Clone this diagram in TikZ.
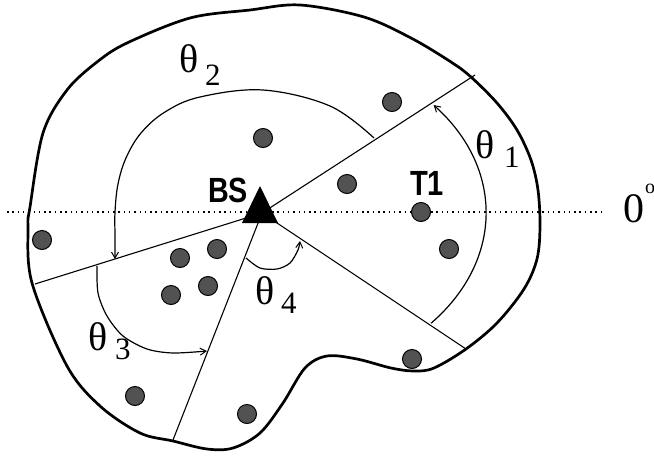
\documentclass[tikz,border=0pt]{standalone}
\usepackage{fontspec}
\setmainfont{Liberation Serif}
\newfontfamily\labelsans{Liberation Sans}
\usetikzlibrary{arrows.meta}
\definecolor{termgray}{RGB}{82,82,82}
\begin{document}
\begin{tikzpicture}[x=1pt,y=-1pt,
  outline/.style={line width=2.7pt, line join=round},
  ray/.style={line width=1.1pt},
  anglearc/.style={line width=1.2pt, -{Straight Barb[length=6pt,width=7pt,line width=1pt]}},
  term/.style={circle, draw=black, line width=1pt, fill=termgray, minimum size=19pt, inner sep=0pt},
  greek/.style={inner sep=0pt, anchor=base west, font=\fontsize{40}{40}\selectfont},
  subidx/.style={inner sep=0pt, anchor=base west, font=\fontsize{31}{31}\selectfont},
  boldlabel/.style={inner sep=0pt, anchor=base west, font=\labelsans\bfseries\fontsize{35}{35}\selectfont},
  dotline/.style={line width=2.6pt, dash pattern=on 1.5pt off 3.8pt}]
\useasboundingbox (0,0) rectangle (654,456);

% reference 0 degree line
\coordinate (dl) at (7,212);
\coordinate (dr) at (605,212);
\draw[dotline] (dl) -- (dr);

% coverage boundary
\draw[outline] plot[smooth cycle, tension=0.55] coordinates {
 (300,5) (364,17) (411,38) (451,62) (471,77) (497,103) (517,130) (531,160)
 (538,190) (540,226) (537,259) (524,289) (497,323) (466,349) (434,368)
 (414,371) (391,368) (357,359) (327,356) (305,368) (283,403) (260,433)
 (233,448) (207,449) (173,441) (140,433) (100,406) (67,366) (32,283)
 (28,227) (30,207) (43,133) (67,90) (97,62) (127,43) (190,18) (250,10)};

% sector borders
\coordinate (O) at (262,213);
\coordinate (E1) at (475,75);
\coordinate (E2) at (466,349);
\coordinate (E3) at (35,284);
\coordinate (E4) at (173,440);
\draw[ray] (O) -- (E1);
\draw[ray] (O) -- (E2);
\draw[ray] (O) -- (E3);
\draw[ray] (O) -- (E4);

% angle arcs
\draw[anglearc] ([shift={(41:224 and 168)}]O) arc[start angle=41, end angle=-40, x radius=224, y radius=168];
\draw[anglearc] plot[smooth, tension=0.6] coordinates {(374,138) (330,106) (263,90) (200,97) (165,112) (141,133) (126,158) (118,184) (115,212) (115,236) (115,259)};
\draw[anglearc] plot[smooth] coordinates {(97,266) (98,293) (107,316) (123,336) (147,349) (173,353) (207,351)};
\draw[anglearc] plot[smooth] coordinates {(246,258) (260,268) (277,269) (290,263) (298,250) (300,241)};

% base station
\fill (260,186) -- (242,223) -- (278,223) -- cycle;

% terminals
\node[term] (d1) at (263,138) {};
\node[term] (d2) at (392,102) {};
\node[term] (d3) at (347,184) {};
\node[term] (d4) at (421,212) {};
\node[term] (d5) at (449,249) {};
\node[term] (d6) at (412,359) {};
\node[term] (d7) at (42,240) {};
\node[term] (d8) at (180,258) {};
\node[term] (d9) at (217,249) {};
\node[term] (d10) at (208,286) {};
\node[term] (d11) at (171,295) {};
\node[term] (d12) at (135,396) {};
\node[term] (d13) at (247,414) {};

% labels
\node[boldlabel] (bs) at (208,202) {\scalebox{0.82}[1]{BS}};
\node[boldlabel] (t1lab) at (410,195) {\scalebox{0.83}[1]{T1}};

\node[greek] (th1) at (475,158) {θ};
\node[subidx] (i1) at (504,167) {1};
\node[greek] (th2) at (179,72) {θ};
\node[subidx] (i2) at (205,85) {2};
\node[greek] (th3) at (88,350) {θ};
\node[subidx] (i3) at (115,359) {3};
\node[greek] (th4) at (255,304) {θ};
\node[subidx] (i4) at (281,313) {4};

\node[inner sep=0pt, anchor=base west, font=\fontsize{42}{42}\selectfont] (zero) at (623,222) {0};
\node[inner sep=0pt, anchor=base west, font=\fontsize{20}{20}\selectfont] (deg) at (645,193) {o};
\end{tikzpicture}
\end{document}
